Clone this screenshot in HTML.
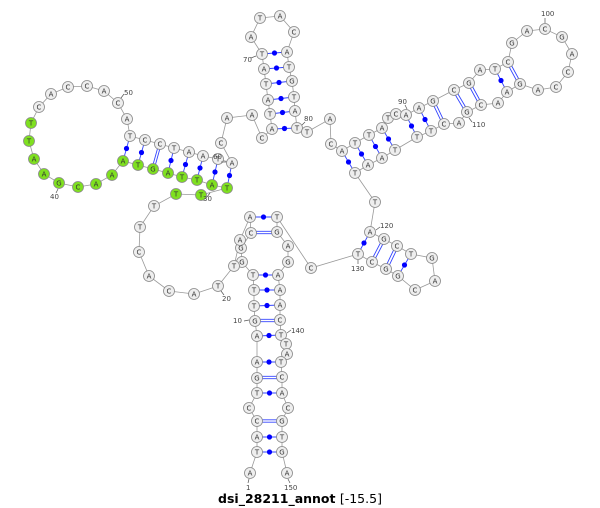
<!DOCTYPE html>
<html><head><style>
body{margin:0;background:#fff}
svg{display:block}
.b{fill:none;stroke:#999;stroke-width:.8}
.p{stroke:#3344ff;stroke-width:.9}
.d{fill:#0000ff}
circle.n{fill:#eee;stroke:#888;stroke-width:.8}
circle.g{fill:#7fe020;stroke:#888;stroke-width:.8}
text.t{font-family:"DejaVu Sans","Liberation Sans",sans-serif;font-size:7px;text-anchor:middle;fill:#333}
text.l{font-family:"DejaVu Sans","Liberation Sans",sans-serif;font-size:7px;fill:#444}
.k{stroke:#555;stroke-width:.7}
</style></head><body>
<svg width="600" height="508" viewBox="0 0 600 508" xmlns="http://www.w3.org/2000/svg">
<polyline class="b" points="250,473 257,452 257,437 257,421 249,408 257,393 257,378 257,362 257,336 255,321 254,306 254,290 253,275 242,262 241,248 251,233 250,217 240,240 234,266 218,286 194,294 169,291 149,276 139,252 140,227 154,206 176,194 201,195 227,188 212,185 197,180 182,177 168,173 153,169 138,165 123,161 112,175 96,184 78,187 59,183 44,174 34,159 29,141 31,123 39,107 51,94 68,87 87,86 104,91 118,103 127,119 130,136 145,140 160,144 174,148 189,152 203,156 218,159 232,163 221,143 227,118 252,115 262,138 272,129 270,114 268,100 266,84 264,69 262,54 251,37 260,18 280,16 294,32 287,52 289,67 292,81 294,97 295,111 297,128 307,132 330,119 331,144 342,151 355,143 369,135 382,128 388,118 396,114 406,115 419,108 433,101 454,90 469,83 480,70 495,69 508,62 512,43 527,31 545,29 562,37 572,54 568,72 556,87 538,90 520,84 507,92 498,103 481,105 467,112 459,123 444,124 431,131 417,137 395,150 382,158 368,165 355,173 375,202 370,232 384,239 397,246 411,254 432,258 435,281 415,290 398,276 386,269 372,262 358,254 311,268 277,217 277,232 288,246 288,262 278,275 280,290 280,305 280,320 281,335 286,344 287,354 281,362 282,377 282,393 288,408 282,421 282,437 282,452 287,473"/>
<!-- dot pairs -->
<g class="p">
<line x1="257" y1="452" x2="282" y2="452"/><line x1="257" y1="437" x2="282" y2="437"/><line x1="257" y1="393" x2="282" y2="393"/><line x1="257" y1="362" x2="281" y2="362"/><line x1="257" y1="336" x2="281" y2="335"/><line x1="254" y1="306" x2="280" y2="305"/><line x1="254" y1="290" x2="280" y2="290"/><line x1="253" y1="275" x2="278" y2="275"/><line x1="250" y1="217" x2="277" y2="217"/>
<line x1="130" y1="136" x2="123" y2="161"/><line x1="145" y1="140" x2="138" y2="165"/><line x1="174" y1="148" x2="168" y2="173"/><line x1="189" y1="152" x2="182" y2="177"/><line x1="203" y1="156" x2="197" y2="180"/><line x1="218" y1="159" x2="212" y2="185"/><line x1="232" y1="163" x2="227" y2="188"/>
<line x1="272" y1="129" x2="297" y2="128"/><line x1="270" y1="114" x2="295" y2="111"/><line x1="268" y1="100" x2="294" y2="97"/><line x1="266" y1="84" x2="292" y2="81"/><line x1="264" y1="69" x2="289" y2="67"/><line x1="262" y1="54" x2="287" y2="52"/>
<line x1="342" y1="151" x2="355" y2="173"/><line x1="355" y1="143" x2="368" y2="165"/><line x1="369" y1="135" x2="382" y2="158"/><line x1="382" y1="128" x2="395" y2="150"/><line x1="406" y1="115" x2="417" y2="137"/><line x1="419" y1="108" x2="431" y2="131"/><line x1="495" y1="69" x2="507" y2="92"/>
<line x1="370" y1="232" x2="358" y2="254"/><line x1="411" y1="254" x2="398" y2="276"/>
<!-- GC doubles -->
<line x1="257" y1="419.8" x2="282" y2="419.8"/><line x1="257" y1="422.2" x2="282" y2="422.2"/>
<line x1="257" y1="376.3" x2="282" y2="376.3"/><line x1="257" y1="378.7" x2="282" y2="378.7"/>
<line x1="255" y1="319.3" x2="280" y2="319.3"/><line x1="255" y1="321.7" x2="280" y2="321.7"/>
<line x1="251" y1="231.3" x2="277" y2="231.3"/><line x1="251" y1="233.7" x2="277" y2="233.7"/>
<line x1="158.8" y1="144" x2="151.8" y2="169"/><line x1="161.2" y1="144" x2="154.2" y2="169"/>
<line x1="431.8" y1="101.6" x2="442.8" y2="124.6"/><line x1="434.2" y1="100.4" x2="445.2" y2="123.4"/>
<line x1="452.8" y1="90.6" x2="465.8" y2="112.6"/><line x1="455.2" y1="89.4" x2="468.2" y2="111.4"/>
<line x1="467.8" y1="83.6" x2="479.8" y2="105.6"/><line x1="470.2" y1="82.4" x2="482.2" y2="104.4"/>
<line x1="506.8" y1="62.6" x2="518.8" y2="84.6"/><line x1="509.2" y1="61.4" x2="521.2" y2="83.4"/>
<line x1="382.8" y1="238.4" x2="370.8" y2="261.4"/><line x1="385.2" y1="239.6" x2="373.2" y2="262.6"/>
<line x1="395.8" y1="245.4" x2="384.8" y2="268.4"/><line x1="398.2" y1="246.6" x2="387.2" y2="269.6"/>
</g>
<g class="d">
<circle cx="269.5" cy="452" r="2.6"/><circle cx="269.5" cy="437" r="2.6"/><circle cx="269.5" cy="393" r="2.6"/><circle cx="269" cy="362" r="2.6"/><circle cx="269" cy="335.5" r="2.6"/><circle cx="267" cy="305.5" r="2.6"/><circle cx="267" cy="290" r="2.6"/><circle cx="265.5" cy="275" r="2.6"/><circle cx="263.5" cy="217" r="2.6"/>
<circle cx="126.5" cy="148.5" r="2.6"/><circle cx="141.5" cy="152.5" r="2.6"/><circle cx="171" cy="160.5" r="2.6"/><circle cx="185.5" cy="164.5" r="2.6"/><circle cx="200" cy="168" r="2.6"/><circle cx="215" cy="172" r="2.6"/><circle cx="229.5" cy="175.5" r="2.6"/>
<circle cx="284.5" cy="128.5" r="2.6"/><circle cx="282.5" cy="112.5" r="2.6"/><circle cx="281" cy="98.5" r="2.6"/><circle cx="279" cy="82.5" r="2.6"/><circle cx="276.5" cy="68" r="2.6"/><circle cx="274.5" cy="53" r="2.6"/>
<circle cx="348.5" cy="162" r="2.6"/><circle cx="361.5" cy="154" r="2.6"/><circle cx="375.5" cy="146.5" r="2.6"/><circle cx="388.5" cy="139" r="2.6"/><circle cx="411.5" cy="126" r="2.6"/><circle cx="425" cy="119.5" r="2.6"/><circle cx="501" cy="80.5" r="2.6"/>
<circle cx="364" cy="243" r="2.6"/><circle cx="404.5" cy="265" r="2.6"/>
</g>
<!-- nodes -->
<g id="nodes">
<circle class="n" cx="250" cy="473" r="5.5"/><text class="t" x="250" y="475.5">A</text>
<circle class="n" cx="257" cy="452" r="5.5"/><text class="t" x="257" y="454.5">T</text>
<circle class="n" cx="257" cy="437" r="5.5"/><text class="t" x="257" y="439.5">A</text>
<circle class="n" cx="257" cy="421" r="5.5"/><text class="t" x="257" y="423.5">C</text>
<circle class="n" cx="249" cy="408" r="5.5"/><text class="t" x="249" y="410.5">C</text>
<circle class="n" cx="257" cy="393" r="5.5"/><text class="t" x="257" y="395.5">T</text>
<circle class="n" cx="257" cy="378" r="5.5"/><text class="t" x="257" y="380.5">G</text>
<circle class="n" cx="257" cy="362" r="5.5"/><text class="t" x="257" y="364.5">A</text>
<circle class="n" cx="257" cy="336" r="5.5"/><text class="t" x="257" y="338.5">A</text>
<circle class="n" cx="255" cy="321" r="5.5"/><text class="t" x="255" y="323.5">G</text>
<circle class="n" cx="254" cy="306" r="5.5"/><text class="t" x="254" y="308.5">T</text>
<circle class="n" cx="254" cy="290" r="5.5"/><text class="t" x="254" y="292.5">T</text>
<circle class="n" cx="253" cy="275" r="5.5"/><text class="t" x="253" y="277.5">T</text>
<circle class="n" cx="242" cy="262" r="5.5"/><text class="t" x="242" y="264.5">G</text>
<circle class="n" cx="241" cy="248" r="5.5"/><text class="t" x="241" y="250.5">G</text>
<circle class="n" cx="251" cy="233" r="5.5"/><text class="t" x="251" y="235.5">C</text>
<circle class="n" cx="250" cy="217" r="5.5"/><text class="t" x="250" y="219.5">A</text>
<circle class="n" cx="240" cy="240" r="5.5"/><text class="t" x="240" y="242.5">A</text>
<circle class="n" cx="234" cy="266" r="5.5"/><text class="t" x="234" y="268.5">T</text>
<circle class="n" cx="218" cy="286" r="5.5"/><text class="t" x="218" y="288.5">T</text>
<circle class="n" cx="194" cy="294" r="5.5"/><text class="t" x="194" y="296.5">A</text>
<circle class="n" cx="169" cy="291" r="5.5"/><text class="t" x="169" y="293.5">C</text>
<circle class="n" cx="149" cy="276" r="5.5"/><text class="t" x="149" y="278.5">A</text>
<circle class="n" cx="139" cy="252" r="5.5"/><text class="t" x="139" y="254.5">C</text>
<circle class="n" cx="140" cy="227" r="5.5"/><text class="t" x="140" y="229.5">T</text>
<circle class="n" cx="154" cy="206" r="5.5"/><text class="t" x="154" y="208.5">T</text>
<circle class="g" cx="176" cy="194" r="5.5"/><text class="t" x="176" y="196.5">T</text>
<circle class="g" cx="201" cy="195" r="5.5"/><text class="t" x="201" y="197.5">T</text>
<circle class="g" cx="227" cy="188" r="5.5"/><text class="t" x="227" y="190.5">T</text>
<circle class="g" cx="212" cy="185" r="5.5"/><text class="t" x="212" y="187.5">A</text>
<circle class="g" cx="197" cy="180" r="5.5"/><text class="t" x="197" y="182.5">T</text>
<circle class="g" cx="182" cy="177" r="5.5"/><text class="t" x="182" y="179.5">T</text>
<circle class="g" cx="168" cy="173" r="5.5"/><text class="t" x="168" y="175.5">A</text>
<circle class="g" cx="153" cy="169" r="5.5"/><text class="t" x="153" y="171.5">G</text>
<circle class="g" cx="138" cy="165" r="5.5"/><text class="t" x="138" y="167.5">T</text>
<circle class="g" cx="123" cy="161" r="5.5"/><text class="t" x="123" y="163.5">A</text>
<circle class="g" cx="112" cy="175" r="5.5"/><text class="t" x="112" y="177.5">A</text>
<circle class="g" cx="96" cy="184" r="5.5"/><text class="t" x="96" y="186.5">A</text>
<circle class="g" cx="78" cy="187" r="5.5"/><text class="t" x="78" y="189.5">C</text>
<circle class="g" cx="59" cy="183" r="5.5"/><text class="t" x="59" y="185.5">G</text>
<circle class="g" cx="44" cy="174" r="5.5"/><text class="t" x="44" y="176.5">A</text>
<circle class="g" cx="34" cy="159" r="5.5"/><text class="t" x="34" y="161.5">A</text>
<circle class="g" cx="29" cy="141" r="5.5"/><text class="t" x="29" y="143.5">T</text>
<circle class="g" cx="31" cy="123" r="5.5"/><text class="t" x="31" y="125.5">T</text>
<circle class="n" cx="39" cy="107" r="5.5"/><text class="t" x="39" y="109.5">C</text>
<circle class="n" cx="51" cy="94" r="5.5"/><text class="t" x="51" y="96.5">A</text>
<circle class="n" cx="68" cy="87" r="5.5"/><text class="t" x="68" y="89.5">C</text>
<circle class="n" cx="87" cy="86" r="5.5"/><text class="t" x="87" y="88.5">C</text>
<circle class="n" cx="104" cy="91" r="5.5"/><text class="t" x="104" y="93.5">A</text>
<circle class="n" cx="118" cy="103" r="5.5"/><text class="t" x="118" y="105.5">C</text>
<circle class="n" cx="127" cy="119" r="5.5"/><text class="t" x="127" y="121.5">A</text>
<circle class="n" cx="130" cy="136" r="5.5"/><text class="t" x="130" y="138.5">T</text>
<circle class="n" cx="145" cy="140" r="5.5"/><text class="t" x="145" y="142.5">C</text>
<circle class="n" cx="160" cy="144" r="5.5"/><text class="t" x="160" y="146.5">C</text>
<circle class="n" cx="174" cy="148" r="5.5"/><text class="t" x="174" y="150.5">T</text>
<circle class="n" cx="189" cy="152" r="5.5"/><text class="t" x="189" y="154.5">A</text>
<circle class="n" cx="203" cy="156" r="5.5"/><text class="t" x="203" y="158.5">A</text>
<circle class="n" cx="218" cy="159" r="5.5"/><text class="t" x="218" y="161.5">T</text>
<circle class="n" cx="232" cy="163" r="5.5"/><text class="t" x="232" y="165.5">A</text>
<circle class="n" cx="221" cy="143" r="5.5"/><text class="t" x="221" y="145.5">C</text>
<circle class="n" cx="227" cy="118" r="5.5"/><text class="t" x="227" y="120.5">A</text>
<circle class="n" cx="252" cy="115" r="5.5"/><text class="t" x="252" y="117.5">A</text>
<circle class="n" cx="262" cy="138" r="5.5"/><text class="t" x="262" y="140.5">C</text>
<circle class="n" cx="272" cy="129" r="5.5"/><text class="t" x="272" y="131.5">A</text>
<circle class="n" cx="270" cy="114" r="5.5"/><text class="t" x="270" y="116.5">T</text>
<circle class="n" cx="268" cy="100" r="5.5"/><text class="t" x="268" y="102.5">A</text>
<circle class="n" cx="266" cy="84" r="5.5"/><text class="t" x="266" y="86.5">T</text>
<circle class="n" cx="264" cy="69" r="5.5"/><text class="t" x="264" y="71.5">A</text>
<circle class="n" cx="262" cy="54" r="5.5"/><text class="t" x="262" y="56.5">T</text>
<circle class="n" cx="251" cy="37" r="5.5"/><text class="t" x="251" y="39.5">A</text>
<circle class="n" cx="260" cy="18" r="5.5"/><text class="t" x="260" y="20.5">T</text>
<circle class="n" cx="280" cy="16" r="5.5"/><text class="t" x="280" y="18.5">A</text>
<circle class="n" cx="294" cy="32" r="5.5"/><text class="t" x="294" y="34.5">C</text>
<circle class="n" cx="287" cy="52" r="5.5"/><text class="t" x="287" y="54.5">A</text>
<circle class="n" cx="289" cy="67" r="5.5"/><text class="t" x="289" y="69.5">T</text>
<circle class="n" cx="292" cy="81" r="5.5"/><text class="t" x="292" y="83.5">G</text>
<circle class="n" cx="294" cy="97" r="5.5"/><text class="t" x="294" y="99.5">T</text>
<circle class="n" cx="295" cy="111" r="5.5"/><text class="t" x="295" y="113.5">A</text>
<circle class="n" cx="297" cy="128" r="5.5"/><text class="t" x="297" y="130.5">T</text>
<circle class="n" cx="307" cy="132" r="5.5"/><text class="t" x="307" y="134.5">T</text>
<circle class="n" cx="330" cy="119" r="5.5"/><text class="t" x="330" y="121.5">A</text>
<circle class="n" cx="331" cy="144" r="5.5"/><text class="t" x="331" y="146.5">C</text>
<circle class="n" cx="342" cy="151" r="5.5"/><text class="t" x="342" y="153.5">A</text>
<circle class="n" cx="355" cy="143" r="5.5"/><text class="t" x="355" y="145.5">T</text>
<circle class="n" cx="369" cy="135" r="5.5"/><text class="t" x="369" y="137.5">T</text>
<circle class="n" cx="382" cy="128" r="5.5"/><text class="t" x="382" y="130.5">A</text>
<circle class="n" cx="388" cy="118" r="5.5"/><text class="t" x="388" y="120.5">T</text>
<circle class="n" cx="396" cy="114" r="5.5"/><text class="t" x="396" y="116.5">C</text>
<circle class="n" cx="406" cy="115" r="5.5"/><text class="t" x="406" y="117.5">A</text>
<circle class="n" cx="419" cy="108" r="5.5"/><text class="t" x="419" y="110.5">A</text>
<circle class="n" cx="433" cy="101" r="5.5"/><text class="t" x="433" y="103.5">G</text>
<circle class="n" cx="454" cy="90" r="5.5"/><text class="t" x="454" y="92.5">C</text>
<circle class="n" cx="469" cy="83" r="5.5"/><text class="t" x="469" y="85.5">G</text>
<circle class="n" cx="480" cy="70" r="5.5"/><text class="t" x="480" y="72.5">A</text>
<circle class="n" cx="495" cy="69" r="5.5"/><text class="t" x="495" y="71.5">T</text>
<circle class="n" cx="508" cy="62" r="5.5"/><text class="t" x="508" y="64.5">C</text>
<circle class="n" cx="512" cy="43" r="5.5"/><text class="t" x="512" y="45.5">G</text>
<circle class="n" cx="527" cy="31" r="5.5"/><text class="t" x="527" y="33.5">A</text>
<circle class="n" cx="545" cy="29" r="5.5"/><text class="t" x="545" y="31.5">C</text>
<circle class="n" cx="562" cy="37" r="5.5"/><text class="t" x="562" y="39.5">G</text>
<circle class="n" cx="572" cy="54" r="5.5"/><text class="t" x="572" y="56.5">A</text>
<circle class="n" cx="568" cy="72" r="5.5"/><text class="t" x="568" y="74.5">C</text>
<circle class="n" cx="556" cy="87" r="5.5"/><text class="t" x="556" y="89.5">C</text>
<circle class="n" cx="538" cy="90" r="5.5"/><text class="t" x="538" y="92.5">A</text>
<circle class="n" cx="520" cy="84" r="5.5"/><text class="t" x="520" y="86.5">G</text>
<circle class="n" cx="507" cy="92" r="5.5"/><text class="t" x="507" y="94.5">A</text>
<circle class="n" cx="498" cy="103" r="5.5"/><text class="t" x="498" y="105.5">A</text>
<circle class="n" cx="481" cy="105" r="5.5"/><text class="t" x="481" y="107.5">C</text>
<circle class="n" cx="467" cy="112" r="5.5"/><text class="t" x="467" y="114.5">G</text>
<circle class="n" cx="459" cy="123" r="5.5"/><text class="t" x="459" y="125.5">A</text>
<circle class="n" cx="444" cy="124" r="5.5"/><text class="t" x="444" y="126.5">C</text>
<circle class="n" cx="431" cy="131" r="5.5"/><text class="t" x="431" y="133.5">T</text>
<circle class="n" cx="417" cy="137" r="5.5"/><text class="t" x="417" y="139.5">T</text>
<circle class="n" cx="395" cy="150" r="5.5"/><text class="t" x="395" y="152.5">T</text>
<circle class="n" cx="382" cy="158" r="5.5"/><text class="t" x="382" y="160.5">A</text>
<circle class="n" cx="368" cy="165" r="5.5"/><text class="t" x="368" y="167.5">A</text>
<circle class="n" cx="355" cy="173" r="5.5"/><text class="t" x="355" y="175.5">T</text>
<circle class="n" cx="375" cy="202" r="5.5"/><text class="t" x="375" y="204.5">T</text>
<circle class="n" cx="370" cy="232" r="5.5"/><text class="t" x="370" y="234.5">A</text>
<circle class="n" cx="384" cy="239" r="5.5"/><text class="t" x="384" y="241.5">G</text>
<circle class="n" cx="397" cy="246" r="5.5"/><text class="t" x="397" y="248.5">C</text>
<circle class="n" cx="411" cy="254" r="5.5"/><text class="t" x="411" y="256.5">T</text>
<circle class="n" cx="432" cy="258" r="5.5"/><text class="t" x="432" y="260.5">G</text>
<circle class="n" cx="435" cy="281" r="5.5"/><text class="t" x="435" y="283.5">A</text>
<circle class="n" cx="415" cy="290" r="5.5"/><text class="t" x="415" y="292.5">C</text>
<circle class="n" cx="398" cy="276" r="5.5"/><text class="t" x="398" y="278.5">G</text>
<circle class="n" cx="386" cy="269" r="5.5"/><text class="t" x="386" y="271.5">G</text>
<circle class="n" cx="372" cy="262" r="5.5"/><text class="t" x="372" y="264.5">C</text>
<circle class="n" cx="358" cy="254" r="5.5"/><text class="t" x="358" y="256.5">T</text>
<circle class="n" cx="311" cy="268" r="5.5"/><text class="t" x="311" y="270.5">C</text>
<circle class="n" cx="277" cy="217" r="5.5"/><text class="t" x="277" y="219.5">T</text>
<circle class="n" cx="277" cy="232" r="5.5"/><text class="t" x="277" y="234.5">G</text>
<circle class="n" cx="288" cy="246" r="5.5"/><text class="t" x="288" y="248.5">A</text>
<circle class="n" cx="288" cy="262" r="5.5"/><text class="t" x="288" y="264.5">G</text>
<circle class="n" cx="278" cy="275" r="5.5"/><text class="t" x="278" y="277.5">A</text>
<circle class="n" cx="280" cy="290" r="5.5"/><text class="t" x="280" y="292.5">A</text>
<circle class="n" cx="280" cy="305" r="5.5"/><text class="t" x="280" y="307.5">A</text>
<circle class="n" cx="280" cy="320" r="5.5"/><text class="t" x="280" y="322.5">C</text>
<circle class="n" cx="281" cy="335" r="5.5"/><text class="t" x="281" y="337.5">T</text>
<circle class="n" cx="286" cy="344" r="5.5"/><text class="t" x="286" y="346.5">T</text>
<circle class="n" cx="287" cy="354" r="5.5"/><text class="t" x="287" y="356.5">A</text>
<circle class="n" cx="281" cy="362" r="5.5"/><text class="t" x="281" y="364.5">T</text>
<circle class="n" cx="282" cy="377" r="5.5"/><text class="t" x="282" y="379.5">C</text>
<circle class="n" cx="282" cy="393" r="5.5"/><text class="t" x="282" y="395.5">A</text>
<circle class="n" cx="288" cy="408" r="5.5"/><text class="t" x="288" y="410.5">C</text>
<circle class="n" cx="282" cy="421" r="5.5"/><text class="t" x="282" y="423.5">G</text>
<circle class="n" cx="282" cy="437" r="5.5"/><text class="t" x="282" y="439.5">T</text>
<circle class="n" cx="282" cy="452" r="5.5"/><text class="t" x="282" y="454.5">G</text>
<circle class="n" cx="287" cy="473" r="5.5"/><text class="t" x="287" y="475.5">A</text>
</g>
<!-- number labels -->
<g class="k">
<line x1="249" y1="479" x2="248" y2="483"/><line x1="288" y1="479" x2="290" y2="483"/>
<line x1="244" y1="321" x2="249" y2="320"/><line x1="221" y1="291" x2="224" y2="295"/>
<line x1="210" y1="193" x2="207" y2="197"/><line x1="58" y1="189" x2="56" y2="193"/>
<line x1="121" y1="98" x2="124" y2="94"/><line x1="221" y1="162" x2="226" y2="162"/>
<line x1="251" y1="58" x2="256" y2="56"/><line x1="302" y1="125" x2="305" y2="122"/>
<line x1="407" y1="109" x2="405" y2="105"/><line x1="545" y1="23" x2="545" y2="18"/>
<line x1="469" y1="118" x2="472" y2="122"/><line x1="376" y1="230" x2="380" y2="227"/>
<line x1="358" y1="260" x2="358" y2="264"/><line x1="287" y1="333" x2="291" y2="330"/>
</g>
<g>
<text class="l" x="246" y="490">1</text>
<text class="l" x="284" y="490">150</text>
<text class="l" x="233" y="323">10</text>
<text class="l" x="222" y="301">20</text>
<text class="l" x="203" y="201">30</text>
<text class="l" x="50" y="199">40</text>
<text class="l" x="124" y="95">50</text>
<text class="l" x="222" y="159" text-anchor="end">60</text>
<text class="l" x="243" y="62">70</text>
<text class="l" x="304" y="121">80</text>
<text class="l" x="398" y="104">90</text>
<text class="l" x="541" y="16">100</text>
<text class="l" x="472" y="127">110</text>
<text class="l" x="380" y="228">120</text>
<text class="l" x="351" y="271">130</text>
<text class="l" x="291" y="333">140</text>
</g>
<text x="300" y="503" text-anchor="middle" style="font-family:'DejaVu Sans','Liberation Sans',sans-serif;font-size:12.5px;font-weight:bold;fill:#000">dsi_28211_annot <tspan font-weight="normal">[-15.5]</tspan></text>
</svg>
</body></html>
